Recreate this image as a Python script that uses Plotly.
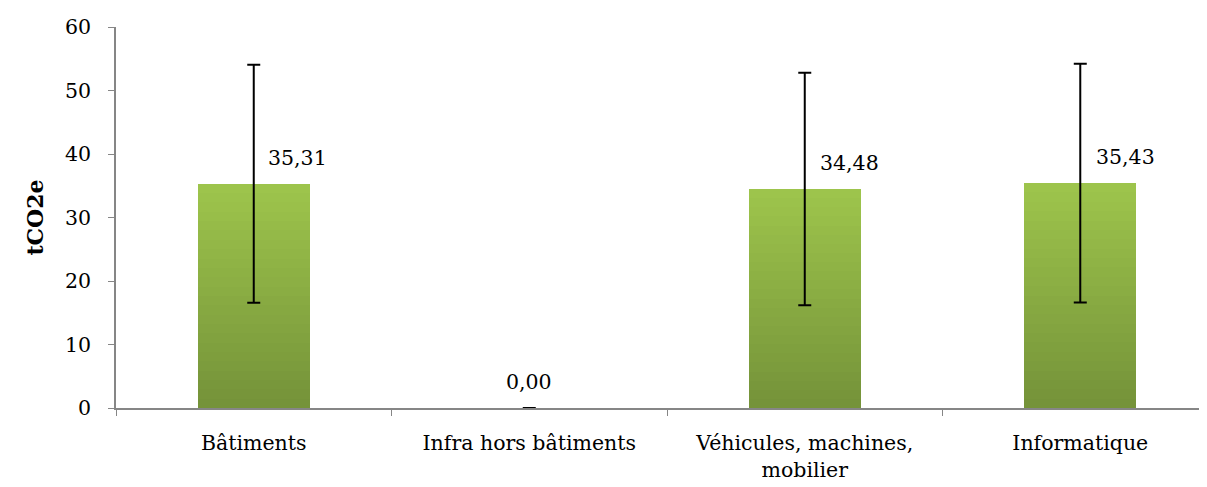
import plotly.graph_objects as go

categories = ["Bâtiments", "Infra hors bâtiments", "Véhicules, machines,<br>mobilier", "Informatique"]
values = [35.31, 0.00, 34.48, 35.43]
errors = [18.75, 0.0, 18.3, 18.8]
labels = ["35,31", "0,00", "34,48", "35,43"]
label_shift = [44, 0, 45, 45]

FONT = "DejaVu Serif"
FS = 20.5
N = 24
top_rgb = (158, 197, 76)
bot_rgb = (116, 146, 57)

fig = go.Figure()
for i in range(N):
    t = (i + 0.5) / N
    r = round(bot_rgb[0] + (top_rgb[0] - bot_rgb[0]) * t)
    g = round(bot_rgb[1] + (top_rgb[1] - bot_rgb[1]) * t)
    b = round(bot_rgb[2] + (top_rgb[2] - bot_rgb[2]) * t)
    fig.add_trace(go.Bar(
        x=categories,
        y=[v / N for v in values],
        base=[v * i / N for v in values],
        width=0.405,
        marker=dict(color=f"rgb({r},{g},{b})", line=dict(width=0)),
        showlegend=False,
        hoverinfo="skip",
    ))

fig.add_trace(go.Scatter(
    x=categories, y=values, mode="markers",
    marker=dict(size=1, color="rgba(0,0,0,0)"),
    error_y=dict(type="data", array=errors, visible=True, color="black", thickness=2, width=6.5),
    showlegend=False,
))

for c, v, lab, dx in zip(categories, values, labels, label_shift):
    fig.add_annotation(x=c, y=v, text=lab, showarrow=False, xshift=dx, yshift=26,
                       font=dict(family=FONT, size=FS, color="black"))

fig.update_layout(
    width=1199, height=479,
    margin=dict(l=108, r=0, t=19, b=79, autoexpand=False),
    plot_bgcolor="white", paper_bgcolor="white",
    barmode="overlay",
    bargap=0,
    font=dict(family=FONT, size=FS, color="black"),
)
fig.update_xaxes(
    type="category", range=[-0.5, 3.46],
    showline=True, linecolor="#868686", linewidth=1.5,
    ticks="outside", tickson="boundaries", ticklen=6, tickcolor="#868686",
    showgrid=False, tickfont=dict(family=FONT, size=FS),
    ticklabelstandoff=16,
)
fig.update_yaxes(
    range=[0, 60], dtick=10,
    showline=True, linecolor="#868686", linewidth=1.5,
    ticks="outside", ticklen=6, tickcolor="#868686",
    showgrid=False, zeroline=False,
    tickfont=dict(family=FONT, size=FS),
    ticklabelstandoff=13,
    title=dict(text="<b>tCO2e</b>", font=dict(family=FONT, size=22), standoff=15),
)

fig.write_html("out.html")
